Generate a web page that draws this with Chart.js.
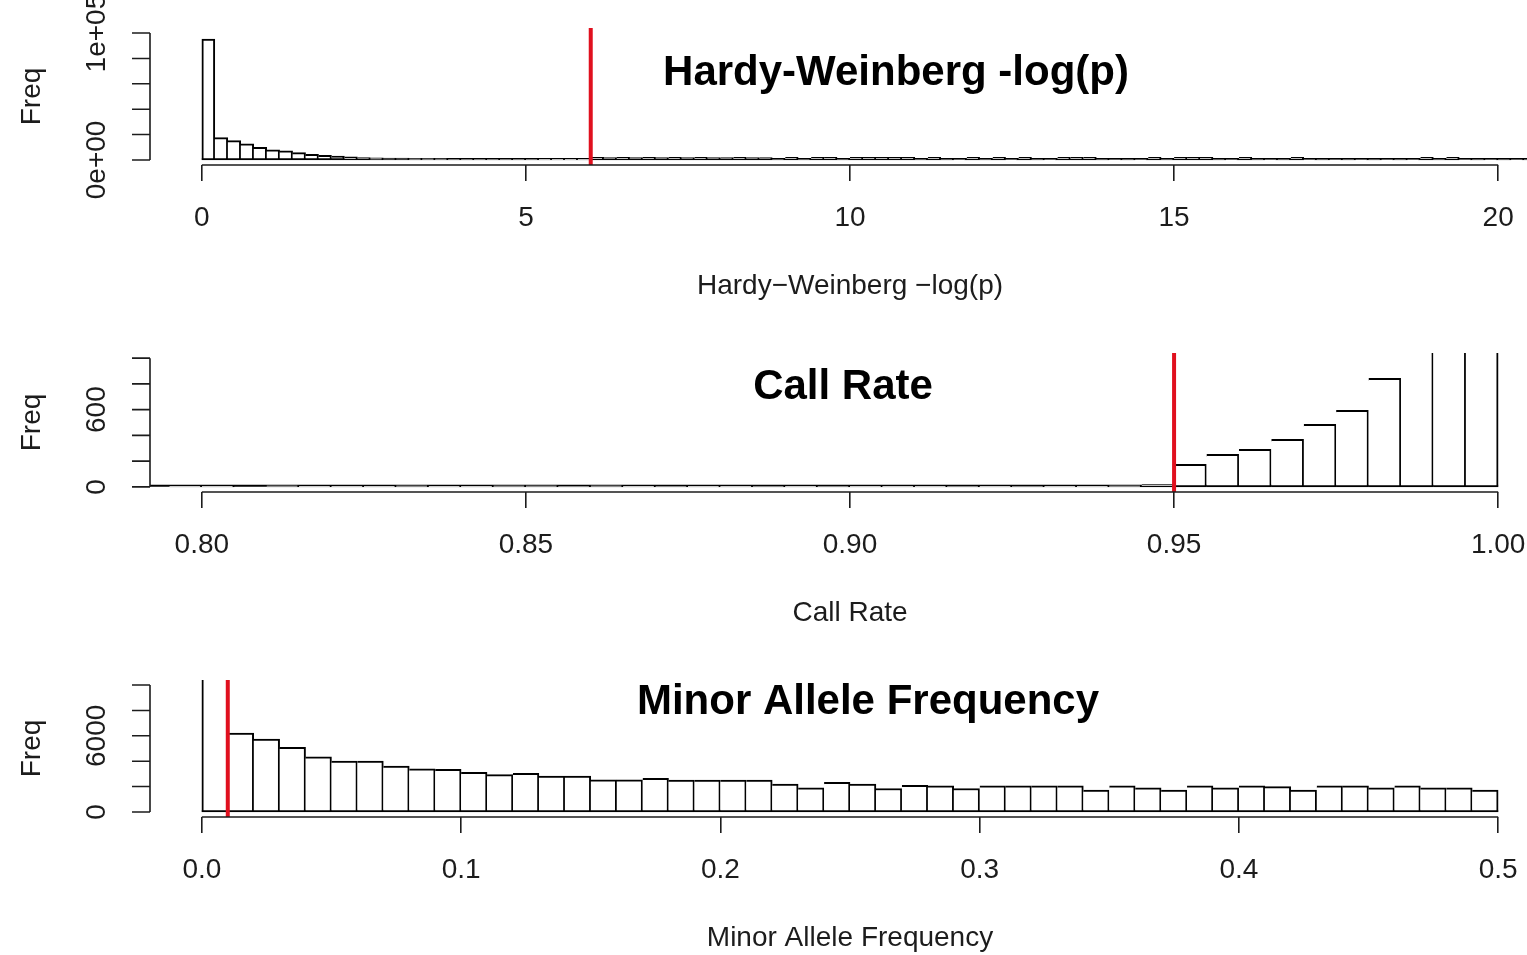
<!DOCTYPE html>
<html>
<head>
<meta charset="utf-8">
<script src="https://cdn.jsdelivr.net/npm/chart.js@4.4.1/dist/chart.umd.min.js"></script>
<style>
  html, body { margin: 0; padding: 0; background: #fff; overflow: hidden; width: 1527px; height: 955px; }
  .panel { position: absolute; left: 0; }
  canvas { display: block; }
</style>
</head>
<body>
<div class="panel" style="top:0px"><canvas id="hwe" width="1600" height="305"></canvas></div>
<div class="panel" style="top:325px"><canvas id="callrate" width="1600" height="307"></canvas></div>
<div class="panel" style="top:652px"><canvas id="maf" width="1600" height="305"></canvas></div>
<script>
// ---------------- DATA ----------------
// Panel 1: Hardy-Weinberg -log(p), bins of 0.2 starting at 0
const hweBinStart = 0;
const hweBinWidth = 0.2;
const hweCounts = [
  95300, 17600, 15200, 12600, 10000, 7900, 7100, 5800, 4500, 3700,
  3100, 2400, 1800, 1600, 1500, 1400, 1300, 1200, 1150, 1100,
  1100, 1050, 1050, 1000, 1000, 1000, 950, 950, 950, 950,
  2000, 1900, 2000, 1900, 2000, 1900, 2000, 1900, 2000, 1900,
  1900, 2000, 1900, 1900, 300, 2100, 300, 2100, 2000, 300,
  2100, 2000, 2100, 2000, 2100, 300, 2000, 300, 200, 2000,
  300, 2000, 200, 2000, 300, 200, 2100, 2000, 2100, 300,
  200, 300, 200, 2000, 300, 2000, 2100, 2000, 300, 200,
  2000, 300, 200, 300, 2000, 200, 300, 200, 300, 200,
  300, 200, 300, 200, 2000, 300, 2000, 200, 300, 200,
  300, 200, 300, 200, 300
];
const hweThreshold = 6;
const hweXTicks = [0, 5, 10, 15, 20];
const hweXTickLabels = ['0', '5', '10', '15', '20'];
const hweYTicks = [0, 20000, 40000, 60000, 80000, 100000];
const hweYTickLabels = ['0e+00', '', '', '', '', '1e+05'];

// Panel 2: Call Rate, bins of 0.005 starting at 0.79
const crBinStart = 0.79;
const crBinWidth = 0.005;
const crCounts = [
  0, 4, 4, 0, 12, 8, 4, 4, 12, 8,
  4, 12, 12, 10, 12, 4, 6, 4, 8, 10,
  4, 6, 8, 4, 8, 6, 4, 6, 8, 8,
  12, 18, 175, 252, 291, 369, 485, 594, 843, 1600,
  2700, 4100
];
const crThreshold = 0.95;
const crXTicks = [0.80, 0.85, 0.90, 0.95, 1.00];
const crXTickLabels = ['0.80', '0.85', '0.90', '0.95', '1.00'];
const crYTicks = [0, 200, 400, 600, 800, 1000];
const crYTickLabels = ['0', '', '', '600', '', ''];

// Panel 3: Minor Allele Frequency, bins of 0.01 starting at 0
const mafBinStart = 0;
const mafBinWidth = 0.01;
const mafCounts = [
  30000, 6220, 5750, 5090, 4350, 4015, 4015, 3620, 3390, 3350,
  3120, 2940, 3040, 2830, 2830, 2540, 2540, 2650, 2520, 2520,
  2520, 2520, 2200, 1890, 2330, 2200, 1850, 2090, 2050, 1850,
  2050, 2050, 2050, 2050, 1730, 2050, 1890, 1730, 2050, 1890,
  2050, 2000, 1730, 2050, 2050, 1890, 2050, 1890, 1890, 1730
];
const mafThreshold = 0.01;
const mafXTicks = [0.0, 0.1, 0.2, 0.3, 0.4, 0.5];
const mafXTickLabels = ['0.0', '0.1', '0.2', '0.3', '0.4', '0.5'];
const mafYTicks = [0, 2000, 4000, 6000, 8000, 10000];
const mafYTickLabels = ['0', '', '', '6000', '', ''];

// ---------------- STYLE ----------------
const FONT = "'Liberation Sans', Arial, Helvetica, sans-serif";
const INK = '#1c1c1c';
const RED = '#e0101e';

Chart.defaults.font.family = FONT;

// Baseline of the histogram (outline of empty / tiny bins), drawn before datasets
const baselinePlugin = {
  id: 'histBaseline',
  beforeDatasetsDraw(chart) {
    const o = chart.options.plugins.rStyle;
    const { ctx, chartArea: a, scales: { x, y } } = chart;
    const left = Math.max(a.left, x.getPixelForValue(o.binStart));
    const right = Math.min(a.right, x.getPixelForValue(o.binStart + o.binCount * o.binWidth));
    const y0 = y.getPixelForValue(0);
    ctx.save();
    ctx.strokeStyle = '#000';
    ctx.lineWidth = 2;
    ctx.beginPath();
    ctx.moveTo(left, y0 - 1);
    ctx.lineTo(right, y0 - 1);
    ctx.stroke();
    ctx.restore();
  }
};

// R-style axis lines, y tick marks, rotated y tick labels and overlay title
const rStylePlugin = {
  id: 'rStyle',
  afterDraw(chart) {
    const o = chart.options.plugins.rStyle;
    const { ctx, chartArea: a, scales: { x, y } } = chart;
    ctx.save();
    ctx.strokeStyle = INK;
    ctx.lineWidth = 1.6;
    ctx.beginPath();
    ctx.moveTo(x.getPixelForValue(o.xTicks[0]), a.bottom);
    ctx.lineTo(x.getPixelForValue(o.xTicks[o.xTicks.length - 1]), a.bottom);
    ctx.moveTo(a.left, y.getPixelForValue(o.yTicks[0]));
    ctx.lineTo(a.left, y.getPixelForValue(o.yTicks[o.yTicks.length - 1]));
    o.yTicks.forEach((v) => {
      const py = y.getPixelForValue(v);
      ctx.moveTo(a.left, py);
      ctx.lineTo(a.left - 18, py);
    });
    ctx.stroke();

    ctx.fillStyle = INK;
    ctx.font = '28px ' + FONT;
    ctx.textAlign = 'center';
    ctx.textBaseline = 'middle';
    o.yLabels.forEach((txt, i) => {
      if (!txt) return;
      const py = y.getPixelForValue(o.yTicks[i]);
      ctx.save();
      ctx.translate(a.left - 53, py);
      ctx.rotate(-Math.PI / 2);
      ctx.fillText(txt, 0, 0);
      ctx.restore();
    });

    ctx.fillStyle = '#000';
    ctx.font = 'bold 42px ' + FONT;
    ctx.textAlign = 'center';
    ctx.textBaseline = 'alphabetic';
    ctx.fillText(o.title, o.titleX, o.titleY);
    ctx.restore();
  }
};

function makePanel(id, p) {
  const binPoints = p.counts.map((c, i) => ({ x: p.binStart + (i + 0.5) * p.binWidth, y: c }));
  new Chart(document.getElementById(id), {
    type: 'bar',
    data: {
      datasets: [
        {
          type: 'line',
          data: [{ x: p.threshold, y: p.yMin }, { x: p.threshold, y: p.yMax }],
          borderColor: RED,
          borderWidth: 4,
          pointRadius: 0,
          order: 0
        },
        {
          type: 'bar',
          data: binPoints,
          backgroundColor: '#ffffff',
          borderColor: '#000000',
          borderWidth: 2,
          borderSkipped: (c) => (c.dataIndex === 0 ? false : 'left'),
          barPercentage: 1,
          categoryPercentage: 1,
          order: 1
        }
      ]
    },
    options: {
      responsive: false,
      animation: false,
      devicePixelRatio: 1,
      layout: { padding: { left: 0, right: 50, top: 28, bottom: 0 } },
      plugins: {
        legend: { display: false },
        tooltip: { enabled: false },
        rStyle: {
          xTicks: p.xTicks, yTicks: p.yTicks, yLabels: p.yTickLabels,
          binStart: p.binStart, binWidth: p.binWidth, binCount: p.counts.length,
          title: p.title, titleX: p.titleX, titleY: p.titleY
        }
      },
      scales: {
        x: {
          type: 'linear',
          min: p.xMin, max: p.xMax,
          offset: false,
          afterBuildTicks: (s) => { s.ticks = p.xTicks.map((v) => ({ value: v })); },
          afterFit: (s) => { s.height = 140; },
          border: { display: false },
          grid: { offset: false, drawOnChartArea: false, drawTicks: true, tickLength: 16, color: INK, lineWidth: 1.6 },
          ticks: {
            autoSkip: false, maxRotation: 0, minRotation: 0, padding: 20,
            color: INK, font: { family: FONT, size: 28 },
            callback: (v, i) => p.xTickLabels[i]
          },
          title: { display: true, text: p.xTitle, color: INK, font: { family: FONT, size: 28 }, padding: { top: 0, bottom: 2 } }
        },
        y: {
          type: 'linear',
          min: p.yMin, max: p.yMax,
          afterBuildTicks: (s) => { s.ticks = p.yTicks.map((v) => ({ value: v })); },
          afterFit: (s) => { s.width = 150; },
          border: { display: false },
          grid: { display: false },
          ticks: { display: false },
          title: { display: true, text: 'Freq', color: INK, font: { family: FONT, size: 28 }, padding: { top: 15, bottom: 0 } }
        }
      }
    },
    plugins: [baselinePlugin, rStylePlugin]
  });
}

makePanel('hwe', {
  counts: hweCounts, binStart: hweBinStart, binWidth: hweBinWidth, threshold: hweThreshold,
  xTicks: hweXTicks, xTickLabels: hweXTickLabels, yTicks: hweYTicks, yTickLabels: hweYTickLabels,
  xMin: -0.8, xMax: 20.8, yMin: -4000, yMax: 104000,
  xTitle: 'Hardy\u2212Weinberg \u2212log(p)',
  title: 'Hardy-Weinberg -log(p)', titleX: 896, titleY: 85
});
makePanel('callrate', {
  counts: crCounts, binStart: crBinStart, binWidth: crBinWidth, threshold: crThreshold,
  xTicks: crXTicks, xTickLabels: crXTickLabels, yTicks: crYTicks, yTickLabels: crYTickLabels,
  xMin: 0.792, xMax: 1.008, yMin: -40, yMax: 1040,
  xTitle: 'Call Rate',
  title: 'Call Rate', titleX: 843, titleY: 74
});
makePanel('maf', {
  counts: mafCounts, binStart: mafBinStart, binWidth: mafBinWidth, threshold: mafThreshold,
  xTicks: mafXTicks, xTickLabels: mafXTickLabels, yTicks: mafYTicks, yTickLabels: mafYTickLabels,
  xMin: -0.02, xMax: 0.52, yMin: -400, yMax: 10400,
  xTitle: 'Minor Allele Frequency',
  title: 'Minor Allele Frequency', titleX: 868, titleY: 62
});
</script>
</body>
</html>
